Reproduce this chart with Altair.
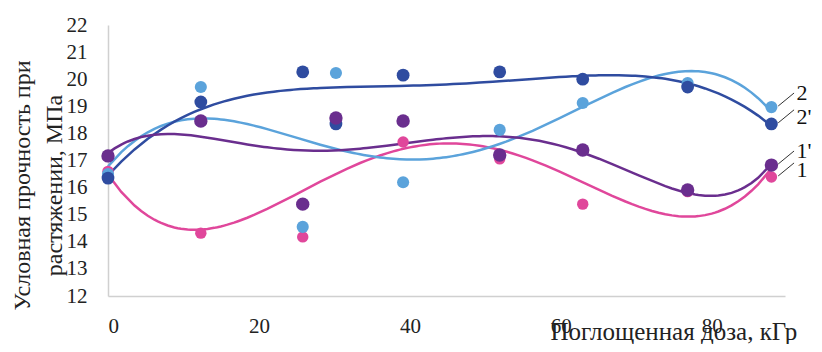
import altair as alt
import pandas as pd

# Absorbed dose, kGy
dose = [0, 12.3, 25.8, 30.2, 39.1, 51.9, 62.9, 76.8, 87.9]
# Series values, MPa
s1 = [16.6, 14.32, 14.18, 18.5, 17.68, 17.06, 15.39, 15.85, 16.39]      # "1"  pink
s2 = [16.5, 19.71, 14.55, 20.23, 16.2, 18.13, 19.12, 19.86, 18.97]      # "2"  light blue
s1p = [17.17, 18.46, 15.39, 18.57, 18.46, 17.2, 17.39, 15.91, 16.83]    # "1'" purple
s2p = [16.35, 19.16, 20.27, 18.35, 20.15, 20.27, 20.0, 19.71, 18.35]    # "2'" dark blue

series_names = ["1", "2", "2'", "1'"]
series_vals = [s1, s2, s2p, s1p]
trend_order = {"1": 4, "2": 4, "1'": 5, "2'": 4}
colors = ["#E0479B", "#5BA3DB", "#2F4CA0", "#6A2E8E"]
sizes = [130, 180, 140, 130]
y_ticks = list(range(12, 23))
x_ticks = [0, 20, 40, 60, 80]

rows = []
for name, vals in zip(series_names, series_vals):
    for d, v in zip(dose, vals):
        if v is not None:
            rows.append({"series": name, "dose": d, "value": v})
df = pd.DataFrame(rows)

last = pd.DataFrame([
    {"series": n, "dose": dose[-1], "value": v[-1]} for n, v in zip(series_names, series_vals)
])

FONT = "Liberation Serif"

xenc = alt.X(
    "dose:Q",
    scale=alt.Scale(domain=[0, 89.7], nice=False, zero=False),
    axis=alt.Axis(
        values=x_ticks, title="Поглощенная доза, кГр", labelPadding=19,
        titleX=442, titleY=43, titleAlign="left", titleBaseline="alphabetic",
        titleFontSize=25,
    ),
)
yenc = alt.Y(
    "value:Q",
    scale=alt.Scale(domain=[12, 22], nice=False, zero=False),
    axis=alt.Axis(
        values=y_ticks, title=["Условная прочность при", "растяжении, МПа"],
        labelPadding=21, titleAngle=270, titleX=-79, titleY=160,
        titleAlign="center", titleBaseline="alphabetic", titleLineHeight=32,
        titleFontSize=24,
    ),
)
color = alt.Color("series:N", scale=alt.Scale(domain=series_names, range=colors), legend=None)
size = alt.Size("series:N", scale=alt.Scale(domain=series_names, range=sizes), legend=None)

base = alt.Chart(df)

line_layers = []
for n in series_names:
    line_layers.append(
        base.transform_filter(alt.datum.series == n).transform_regression(
            "dose", "value", method="poly", order=trend_order[n],
            groupby=["series"], extent=[0, 87.9]
        ).mark_line(strokeWidth=2.5).encode(x=xenc, y=yenc, color=color)
    )

points = base.mark_circle(opacity=1).encode(x=xenc, y=yenc, color=color, size=size)

leaders = alt.Chart(last).transform_calculate(
    dose2="datum.dose + 3.0", value2="datum.value + 0.52"
).transform_calculate(
    dose="datum.dose + 0.9", value="datum.value + 0.04"
).mark_rule(color="#333333", strokeWidth=1).encode(
    x=xenc, y=yenc, x2="dose2:Q", y2="value2:Q"
)

label_dy = {"2": -14, "2'": -7, "1'": -14, "1": -7}
label_layers = []
for n in series_names:
    label_layers.append(
        alt.Chart(last).transform_filter(alt.datum.series == n).mark_text(
            align="left", baseline="middle", dx=25, dy=label_dy[n],
            font=FONT, fontSize=22, color="#111111",
        ).encode(x=xenc, y=yenc, text="series:N")
    )

chart = alt.layer(*line_layers, points, leaders, *label_layers).properties(
    width=677, height=271,
    autosize=alt.AutoSizeParams(type="none"),
    padding={"left": 100, "top": 17, "right": 29, "bottom": 48},
).configure_view(stroke=None).configure_axis(
    grid=False, ticks=False, domainColor="#d0d0d0", domainWidth=1.5,
    labelFont=FONT, labelFontSize=21, labelColor="#222222",
    titleFont=FONT, titleFontWeight="normal", titleColor="#222222",
)

chart.save("out.html", embed_options={"renderer": "svg", "actions": False})
